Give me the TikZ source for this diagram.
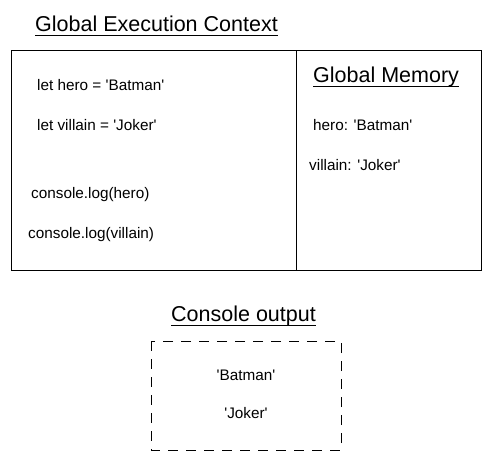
\documentclass[tikz,border=0pt]{standalone}
\usepackage{fontspec}
\newfontfamily\hand{Liberation Sans}
\begin{document}
\begin{tikzpicture}[x=1pt,y=-1pt,
  title/.style={font=\hand\fontsize{21.5}{24}\selectfont, inner sep=0pt, anchor=base west},
  txt/.style={font=\hand\fontsize{15.3}{17}\selectfont, inner sep=0pt, anchor=west},
  ctr/.style={font=\hand\fontsize{15.3}{17}\selectfont, inner sep=0pt},
  uline/.style={line width=1pt, black}]
\useasboundingbox (0,0) rectangle (492,461);
% titles
\node[title] (gec) at (35,31) {Global Execution Context};
\draw[uline] ([yshift=-4pt]gec.base west) -- ([yshift=-4pt]gec.base east);
\node[title] (gm) at (313,82) {Global Memory};
\draw[uline] ([yshift=-4pt]gm.base west) -- ([yshift=-4pt]gm.base east);
\node[title] (co) at (171,321) {Console output};
\draw[uline] ([yshift=-4pt]co.base west) -- ([yshift=-4pt]co.base east);
% main box
\draw[line width=0.8pt] (11,50) rectangle (481,270);
\draw[line width=0.8pt] (296,50) -- (296,270);
% code texts
\node[txt] (l1) at (37,85) {let hero = 'Batman'};
\node[txt] (l2) at (37,125) {let villain = 'Joker'};
\node[txt] (l3) at (31,195) {console.log(hero)};
\node[txt] (l4) at (28,235) {console.log(villain)};
\node[txt] (m1) at (313,125) {hero: 'Batman'};
\node[txt] (m2) at (309,165) {villain: 'Joker'};
% console box
\draw[line width=0.8pt, dash pattern=on 10pt off 8pt] (151,341) rectangle (341,450);
\node[ctr] (o1) at (246,375) {'Batman'};
\node[ctr] (o2) at (246,413) {'Joker'};
\end{tikzpicture}
\end{document}
